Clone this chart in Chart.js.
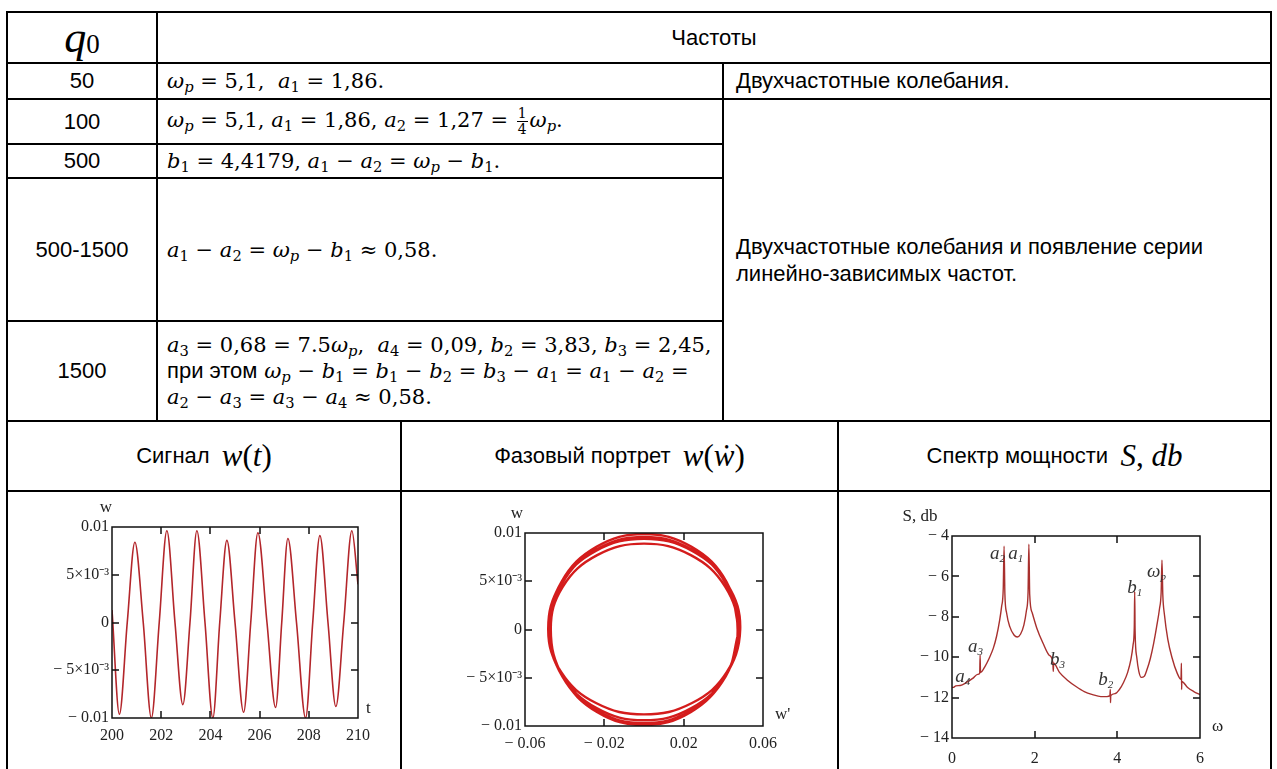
<!DOCTYPE html>
<html>
<head>
<meta charset="utf-8">
<script src="https://cdn.jsdelivr.net/npm/chart.js@4.4.1/dist/chart.umd.min.js"></script>
<style>
html, body { margin: 0; padding: 0; background: #fff; }
#page { position: relative; width: 1277px; height: 769px; overflow: hidden; background: #fff; }
.h, .v { position: absolute; background: #000; }
.h { height: 2px; }
.v { width: 2px; }
.c { position: absolute; display: flex; align-items: center; box-sizing: border-box;
     font-family: 'Liberation Sans', Arial, sans-serif; font-size: 22px; color: #000; white-space: nowrap; }
.ctr { justify-content: center; }
.col { flex-direction: column; align-items: flex-start; justify-content: center; }
.m { font-family: 'DejaVu Serif', serif; font-size: 21px; }
.m sub { font-size: 70%; vertical-align: baseline; position: relative; top: 0.3em; line-height: 0; }
.frac { display: inline-flex; flex-direction: column; align-items: center; font-size: 66%;
        vertical-align: middle; line-height: 1.05; margin: 0 2px; }
.frac span:first-child { border-bottom: 1px solid #000; padding: 0 1px; }
.eq { font-family: 'Liberation Serif', serif; font-style: italic; font-size: 31px; }
.sans { font-family: 'Liberation Sans', Arial, sans-serif; font-size: 22px; }
canvas { position: absolute; }
</style>
</head>
<body>
<div id="page">
  <!-- table lines -->
  <div class="h" style="left:6px;top:11px;width:1266px"></div>
  <div class="h" style="left:6px;top:62px;width:1266px"></div>
  <div class="h" style="left:6px;top:98px;width:1266px"></div>
  <div class="h" style="left:6px;top:143px;width:718px"></div>
  <div class="h" style="left:6px;top:177px;width:718px"></div>
  <div class="h" style="left:6px;top:320px;width:718px"></div>
  <div class="h" style="left:6px;top:420px;width:1266px"></div>
  <div class="h" style="left:6px;top:490px;width:1266px"></div>
  <div class="v" style="left:6px;top:11px;height:758px"></div>
  <div class="v" style="left:1270px;top:11px;height:758px"></div>
  <div class="v" style="left:156px;top:11px;height:410px"></div>
  <div class="v" style="left:722px;top:62px;height:359px"></div>
  <div class="v" style="left:400px;top:420px;height:349px"></div>
  <div class="v" style="left:837px;top:420px;height:349px"></div>

  <!-- header -->
  <div class="c ctr" style="left:7px;top:12px;width:150px;height:51px">
    <span style="font-family:'Liberation Serif',serif;font-style:italic;font-size:44px">q</span><span style="font-family:'Liberation Serif',serif;font-size:27px;position:relative;top:7px">0</span>
  </div>
  <div class="c ctr" style="left:157px;top:12px;width:1114px;height:51px">Частоты</div>

  <!-- q0 column -->
  <div class="c ctr" style="left:7px;top:63px;width:150px;height:36px">50</div>
  <div class="c ctr" style="left:7px;top:99px;width:150px;height:45px">100</div>
  <div class="c ctr" style="left:7px;top:144px;width:150px;height:34px">500</div>
  <div class="c ctr" style="left:7px;top:178px;width:150px;height:143px">500-1500</div>
  <div class="c ctr" style="left:7px;top:321px;width:150px;height:100px">1500</div>

  <!-- formulas -->
  <div class="c m" style="left:158px;top:63px;width:564px;height:36px;padding-left:9px">
    <span><i>ω</i><sub><i>p</i></sub> = 5,1,&nbsp; <i>a</i><sub>1</sub> = 1,86.</span>
  </div>
  <div class="c m" style="left:158px;top:99px;width:564px;height:45px;padding-left:9px">
    <span><i>ω</i><sub><i>p</i></sub> = 5,1, <i>a</i><sub>1</sub> = 1,86, <i>a</i><sub>2</sub> = 1,27 = <span class="frac"><span>1</span><span>4</span></span><i>ω</i><sub><i>p</i></sub>.</span>
  </div>
  <div class="c m" style="left:158px;top:144px;width:564px;height:34px;padding-left:9px">
    <span><i>b</i><sub>1</sub> = 4,4179, <i>a</i><sub>1</sub> − <i>a</i><sub>2</sub> = <i>ω</i><sub><i>p</i></sub> − <i>b</i><sub>1</sub>.</span>
  </div>
  <div class="c m" style="left:158px;top:178px;width:564px;height:143px;padding-left:9px">
    <span><i>a</i><sub>1</sub> − <i>a</i><sub>2</sub> = <i>ω</i><sub><i>p</i></sub> − <i>b</i><sub>1</sub> ≈ 0,58.</span>
  </div>
  <div class="c m col" style="left:158px;top:321px;width:564px;height:100px;padding-left:9px;line-height:26px">
    <span><i>a</i><sub>3</sub> = 0,68 = 7.5<i>ω</i><sub><i>p</i></sub>,&nbsp; <i>a</i><sub>4</sub> = 0,09, <i>b</i><sub>2</sub> = 3,83, <i>b</i><sub>3</sub> = 2,45,</span>
    <span><span class="sans">при этом</span> <i>ω</i><sub><i>p</i></sub> − <i>b</i><sub>1</sub> = <i>b</i><sub>1</sub> − <i>b</i><sub>2</sub> = <i>b</i><sub>3</sub> − <i>a</i><sub>1</sub> = <i>a</i><sub>1</sub> − <i>a</i><sub>2</sub> =</span>
    <span><i>a</i><sub>2</sub> − <i>a</i><sub>3</sub> = <i>a</i><sub>3</sub> − <i>a</i><sub>4</sub> ≈ 0,58.</span>
  </div>

  <!-- right column -->
  <div class="c" style="left:724px;top:63px;width:546px;height:36px;padding-left:12px">Двухчастотные колебания.</div>
  <div class="c col" style="left:724px;top:99px;width:546px;height:322px;padding-left:12px;line-height:27px">
    <span>Двухчастотные колебания и появление серии</span>
    <span>линейно-зависимых частот.</span>
  </div>

  <!-- bottom headers -->
  <div class="c ctr" style="left:7px;top:421px;width:394px;height:70px">Сигнал&nbsp;&nbsp;<span class="eq">w</span><span class="eq" style="font-style:normal">(</span><span class="eq">t</span><span class="eq" style="font-style:normal">)</span></div>
  <div class="c ctr" style="left:401px;top:421px;width:437px;height:70px">Фазовый портрет&nbsp;&nbsp;<span class="eq">w</span><span class="eq" style="font-style:normal">(</span><span class="eq">ẇ</span><span class="eq" style="font-style:normal">)</span></div>
  <div class="c ctr" style="left:838px;top:421px;width:433px;height:70px">Спектр мощности&nbsp;&nbsp;<span class="eq">S</span><span class="eq" style="font-style:normal">,&nbsp;</span><span class="eq">db</span></div>

  <canvas id="sig" width="392" height="276" style="left:8px;top:493px"></canvas>
  <canvas id="phase" width="434" height="276" style="left:403px;top:493px"></canvas>
  <canvas id="spec" width="430" height="276" style="left:840px;top:493px"></canvas>
</div>

<script>
/* ---------------- data ---------------- */

// Signal w(t): extrema and zero crossings
const SIGNAL_T = [200.00, 200.30, 200.62, 200.93, 201.27, 201.60, 201.92, 202.23, 202.56, 202.88,
                  203.17, 203.45, 203.78, 204.10, 204.38, 204.67, 205.00, 205.35, 205.64, 205.93,
                  206.30, 206.65, 206.90, 207.15, 207.50, 207.87, 208.16, 208.45, 208.78, 209.10,
                  209.42, 209.75, 210.00];
const SIGNAL_W = [0.0013, -0.0096, 0, 0.0084, 0, -0.0100, 0, 0.0096, 0, -0.0086,
                  0, 0.0096, 0, -0.0100, 0, 0.0086, 0, -0.0094, 0, 0.0094,
                  0, -0.0089, 0, 0.0088, 0, -0.0100, 0, 0.0091, 0, -0.0088,
                  0, 0.0096, 0.0040];
const SIG_X_TICKS  = [200, 202, 204, 206, 208, 210];
const SIG_X_LABELS = ['200', '202', '204', '206', '208', '210'];
const W_TICKS  = [-0.01, -0.005, 0, 0.005, 0.01];
const W_LABELS = ['− 0.01', '− 5×10⁻³', '0', '5×10⁻³', '0.01'];

// Phase portrait w(w'): points around the loops
const PHASE_WDOT = [
   0.0480,  0.0416,  0.0240, 0, -0.0240, -0.0416,
  -0.0480, -0.0414, -0.0239, 0,  0.0239,  0.0414,
   0.0472,  0.0409,  0.0236, 0, -0.0236, -0.0409,
  -0.0470, -0.0407, -0.0235, 0,  0.0235,  0.0407,
   0.0485,  0.0420,  0.0243, 0, -0.0243, -0.0420,
  -0.0483, -0.0418, -0.0242, 0,  0.0242,  0.0418,
   0.0476,  0.0412,  0.0238, 0, -0.0238, -0.0412,
  -0.0476, -0.0412, -0.0238, 0,  0.0238,  0.0412,
   0.0480];
const PHASE_W = [
   0,  0.00495,  0.00857,  0.0099,  0.00857,  0.00495,
   0, -0.0047,  -0.00814, -0.0094, -0.00814, -0.0047,
   0,  0.00445,  0.00771,  0.0089,  0.00771,  0.00445,
   0, -0.00495, -0.00857, -0.0099, -0.00857, -0.00495,
   0,  0.0047,   0.00814,  0.0094,  0.00814,  0.0047,
   0, -0.0044,  -0.00762, -0.0088, -0.00762, -0.0044,
   0,  0.0048,   0.00831,  0.0096,  0.00831,  0.0048,
   0, -0.00485, -0.0084,  -0.0097, -0.0084,  -0.00485,
   0];
const PH_X_TICKS  = [-0.06, -0.02, 0.02, 0.06];
const PH_X_LABELS = ['− 0.06', '− 0.02', '0.02', '0.06'];

// Power spectrum S(ω), db
const SPEC_OMEGA = [0.00, 0.05, 0.09, 0.20, 0.35, 0.50, 0.62, 0.67, 0.68, 0.69,
                    0.80, 0.90, 1.00, 1.08, 1.15, 1.20, 1.24, 1.26, 1.28, 1.32,
                    1.40, 1.50, 1.58, 1.66, 1.74, 1.80, 1.84, 1.86, 1.88, 1.94,
                    2.05, 2.20, 2.35, 2.44, 2.45, 2.46, 2.60, 2.80, 3.00, 3.20,
                    3.40, 3.60, 3.75, 3.82, 3.83, 3.835, 3.84, 3.95, 4.05, 4.15,
                    4.25, 4.33, 4.38, 4.41, 4.42, 4.43, 4.47, 4.52, 4.58, 4.65,
                    4.72, 4.80, 4.88, 4.95, 5.02, 5.06, 5.08, 5.10, 5.14, 5.22,
                    5.32, 5.45, 5.54, 5.55, 5.555, 5.56, 5.70, 5.85, 6.00];
const SPEC_S = [-11.50, -11.48, -11.42, -11.40, -11.25, -11.05, -10.85, -10.80, -9.90, -10.75,
                -10.45, -10.05, -9.55, -8.95, -8.20, -7.50, -6.60, -4.50, -6.90, -7.80,
                -8.50, -8.90, -9.00, -8.85, -8.40, -7.70, -6.80, -4.40, -6.90, -7.80,
                -8.55, -9.30, -9.90, -10.25, -10.70, -10.30, -10.75, -11.15, -11.45, -11.70,
                -11.85, -11.95, -11.95, -11.90, -11.60, -12.25, -11.90, -11.80, -11.60, -11.25,
                -10.75, -10.10, -9.40, -8.50, -6.75, -8.70, -10.00, -10.70, -11.00, -10.95,
                -10.60, -10.05, -9.30, -8.50, -7.60, -6.80, -5.20, -6.90, -7.90, -9.10,
                -10.00, -10.80, -11.10, -10.30, -11.60, -11.20, -11.50, -11.70, -11.85];
const SPEC_X_TICKS  = [0, 2, 4, 6];
const SPEC_X_LABELS = ['0', '2', '4', '6'];
const SPEC_Y_TICKS  = [-14, -12, -10, -8, -6, -4];
const SPEC_Y_LABELS = ['− 14', '− 12', '− 10', '− 8', '− 6', '− 4'];

// peak names on the spectrum, anchored in data units (ω, S)
const PEAK_NAMES    = ['a', 'a', 'a', 'a', 'b', 'b', 'b', 'ω'];
const PEAK_SUBS     = ['4', '3', '2', '1', '3', '2', '1', 'p'];
const PEAK_LABEL_W  = [0.08, 0.39, 0.92, 1.36, 2.37, 3.54, 4.24, 4.72];
const PEAK_LABEL_S  = [-11.25, -9.75, -5.15, -5.15, -10.4, -11.4, -6.8, -6.05];

/* ---------------- helpers ---------------- */
const TICK_FONT = { family: "'Liberation Serif', serif", size: 16 };
const TICK_COLOR = '#222';

// Mathcad-like frame: closed box, inward tick marks, axis names
const mathcadBox = {
    id: 'mathcadBox',
    afterDatasetsDraw(chart, args, o) {
        const { ctx, chartArea: a, scales: { x, y } } = chart;
        ctx.save();
        ctx.strokeStyle = '#111';
        ctx.lineWidth = 1.5;
        ctx.strokeRect(a.left, a.top, a.right - a.left, a.bottom - a.top);

        ctx.beginPath();
        x.ticks.forEach(t => {
            if (t.value <= x.min || t.value >= x.max) return;
            const p = Math.round(x.getPixelForValue(t.value));
            ctx.moveTo(p, a.bottom); ctx.lineTo(p, a.bottom - o.tick);
            ctx.moveTo(p, a.top);    ctx.lineTo(p, a.top + o.tick);
        });
        y.ticks.forEach(t => {
            if (t.value <= y.min || t.value >= y.max) return;
            const p = Math.round(y.getPixelForValue(t.value));
            ctx.moveTo(a.left, p);  ctx.lineTo(a.left + o.tick, p);
            ctx.moveTo(a.right, p); ctx.lineTo(a.right - o.tick, p);
        });
        ctx.stroke();

        ctx.fillStyle = '#222';
        ctx.font = "17px 'Liberation Serif', serif";
        ctx.textBaseline = 'middle';
        ctx.textAlign = 'center';
        ctx.fillText(o.yName, a.left + o.yNameDx, a.top + o.yNameDy);
        ctx.textAlign = 'left';
        ctx.fillText(o.xName, a.right + o.xNameDx, a.bottom + o.xNameDy);
        ctx.restore();
    },
};

const peakLabels = {
    id: 'peakLabels',
    afterDatasetsDraw(chart) {
        const { ctx, scales: { x, y } } = chart;
        ctx.save();
        ctx.fillStyle = '#333';
        ctx.textAlign = 'left';
        ctx.textBaseline = 'alphabetic';
        PEAK_NAMES.forEach((n, i) => {
            const px = x.getPixelForValue(PEAK_LABEL_W[i]);
            const py = y.getPixelForValue(PEAK_LABEL_S[i]);
            ctx.font = "italic 19px 'Liberation Serif', serif";
            ctx.fillText(n, px, py);
            const w = ctx.measureText(n).width;
            ctx.font = "italic 11px 'Liberation Serif', serif";
            ctx.fillText(PEAK_SUBS[i], px + w, py + 3);
        });
        ctx.restore();
    },
};

function axis(min, max, tickVals, tickLabels, size, pad, isX) {
    return {
        type: 'linear', min, max,
        grid: { display: false, drawTicks: false },
        border: { display: false },
        afterBuildTicks(s) { s.ticks = tickVals.map(v => ({ value: v })); },
        afterFit(s) { if (isX) s.height = size; else s.width = size; },
        ticks: {
            autoSkip: false, maxRotation: 0, padding: pad,
            color: TICK_COLOR, font: TICK_FONT,
            callback: (v, i) => tickLabels[i],
        },
    };
}

function makeChart(id, points, ds, scales, padding, box, extraPlugins) {
    return new Chart(document.getElementById(id), {
        type: 'scatter',
        plugins: [mathcadBox].concat(extraPlugins || []),
        data: { datasets: [Object.assign({ data: points, showLine: true, pointRadius: 0 }, ds)] },
        options: {
            responsive: false, animation: false,
            layout: { padding },
            plugins: { legend: { display: false }, tooltip: { enabled: false }, mathcadBox: box },
            scales,
        },
    });
}

/* ---------------- charts ---------------- */
makeChart('sig',
    SIGNAL_T.map((t, i) => ({ x: t, y: SIGNAL_W[i] })),
    { borderColor: '#b3262b', borderWidth: 1.6, cubicInterpolationMode: 'monotone' },
    {
        x: axis(200, 210, SIG_X_TICKS, SIG_X_LABELS, 51, 8, true),
        y: axis(-0.01, 0.01, W_TICKS, W_LABELS, 104, 3, false),
    },
    { left: 0, right: 42, top: 34, bottom: 0 },
    { tick: 7, yName: 'w', yNameDx: -6, yNameDy: -19, xName: 't', xNameDx: 8, xNameDy: -9 });

makeChart('phase',
    PHASE_WDOT.map((v, i) => ({ x: v, y: PHASE_W[i] })),
    { borderColor: '#d41c1c', borderWidth: 2.4, tension: 0.4 },
    {
        x: axis(-0.06, 0.06, PH_X_TICKS, PH_X_LABELS, 43, 8, true),
        y: axis(-0.01, 0.01, W_TICKS, W_LABELS, 122, 3, false),
    },
    { left: 0, right: 74, top: 40, bottom: 0 },
    { tick: 7, yName: 'w', yNameDx: -8, yNameDy: -19, xName: "w'", xNameDx: 12, xNameDy: -11 });

makeChart('spec',
    SPEC_OMEGA.map((v, i) => ({ x: v, y: SPEC_S[i] })),
    { borderColor: '#a8302e', borderWidth: 1.4, cubicInterpolationMode: 'monotone' },
    {
        x: axis(0, 6, SPEC_X_TICKS, SPEC_X_LABELS, 31, 11, true),
        y: axis(-14, -4, SPEC_Y_TICKS, SPEC_Y_LABELS, 112, 3, false),
    },
    { left: 0, right: 70, top: 43, bottom: 0 },
    { tick: 7, yName: 'S, db', yNameDx: -32, yNameDy: -19, xName: 'ω', xNameDx: 12, xNameDy: -11 },
    [peakLabels]);
</script>
</body>
</html>
